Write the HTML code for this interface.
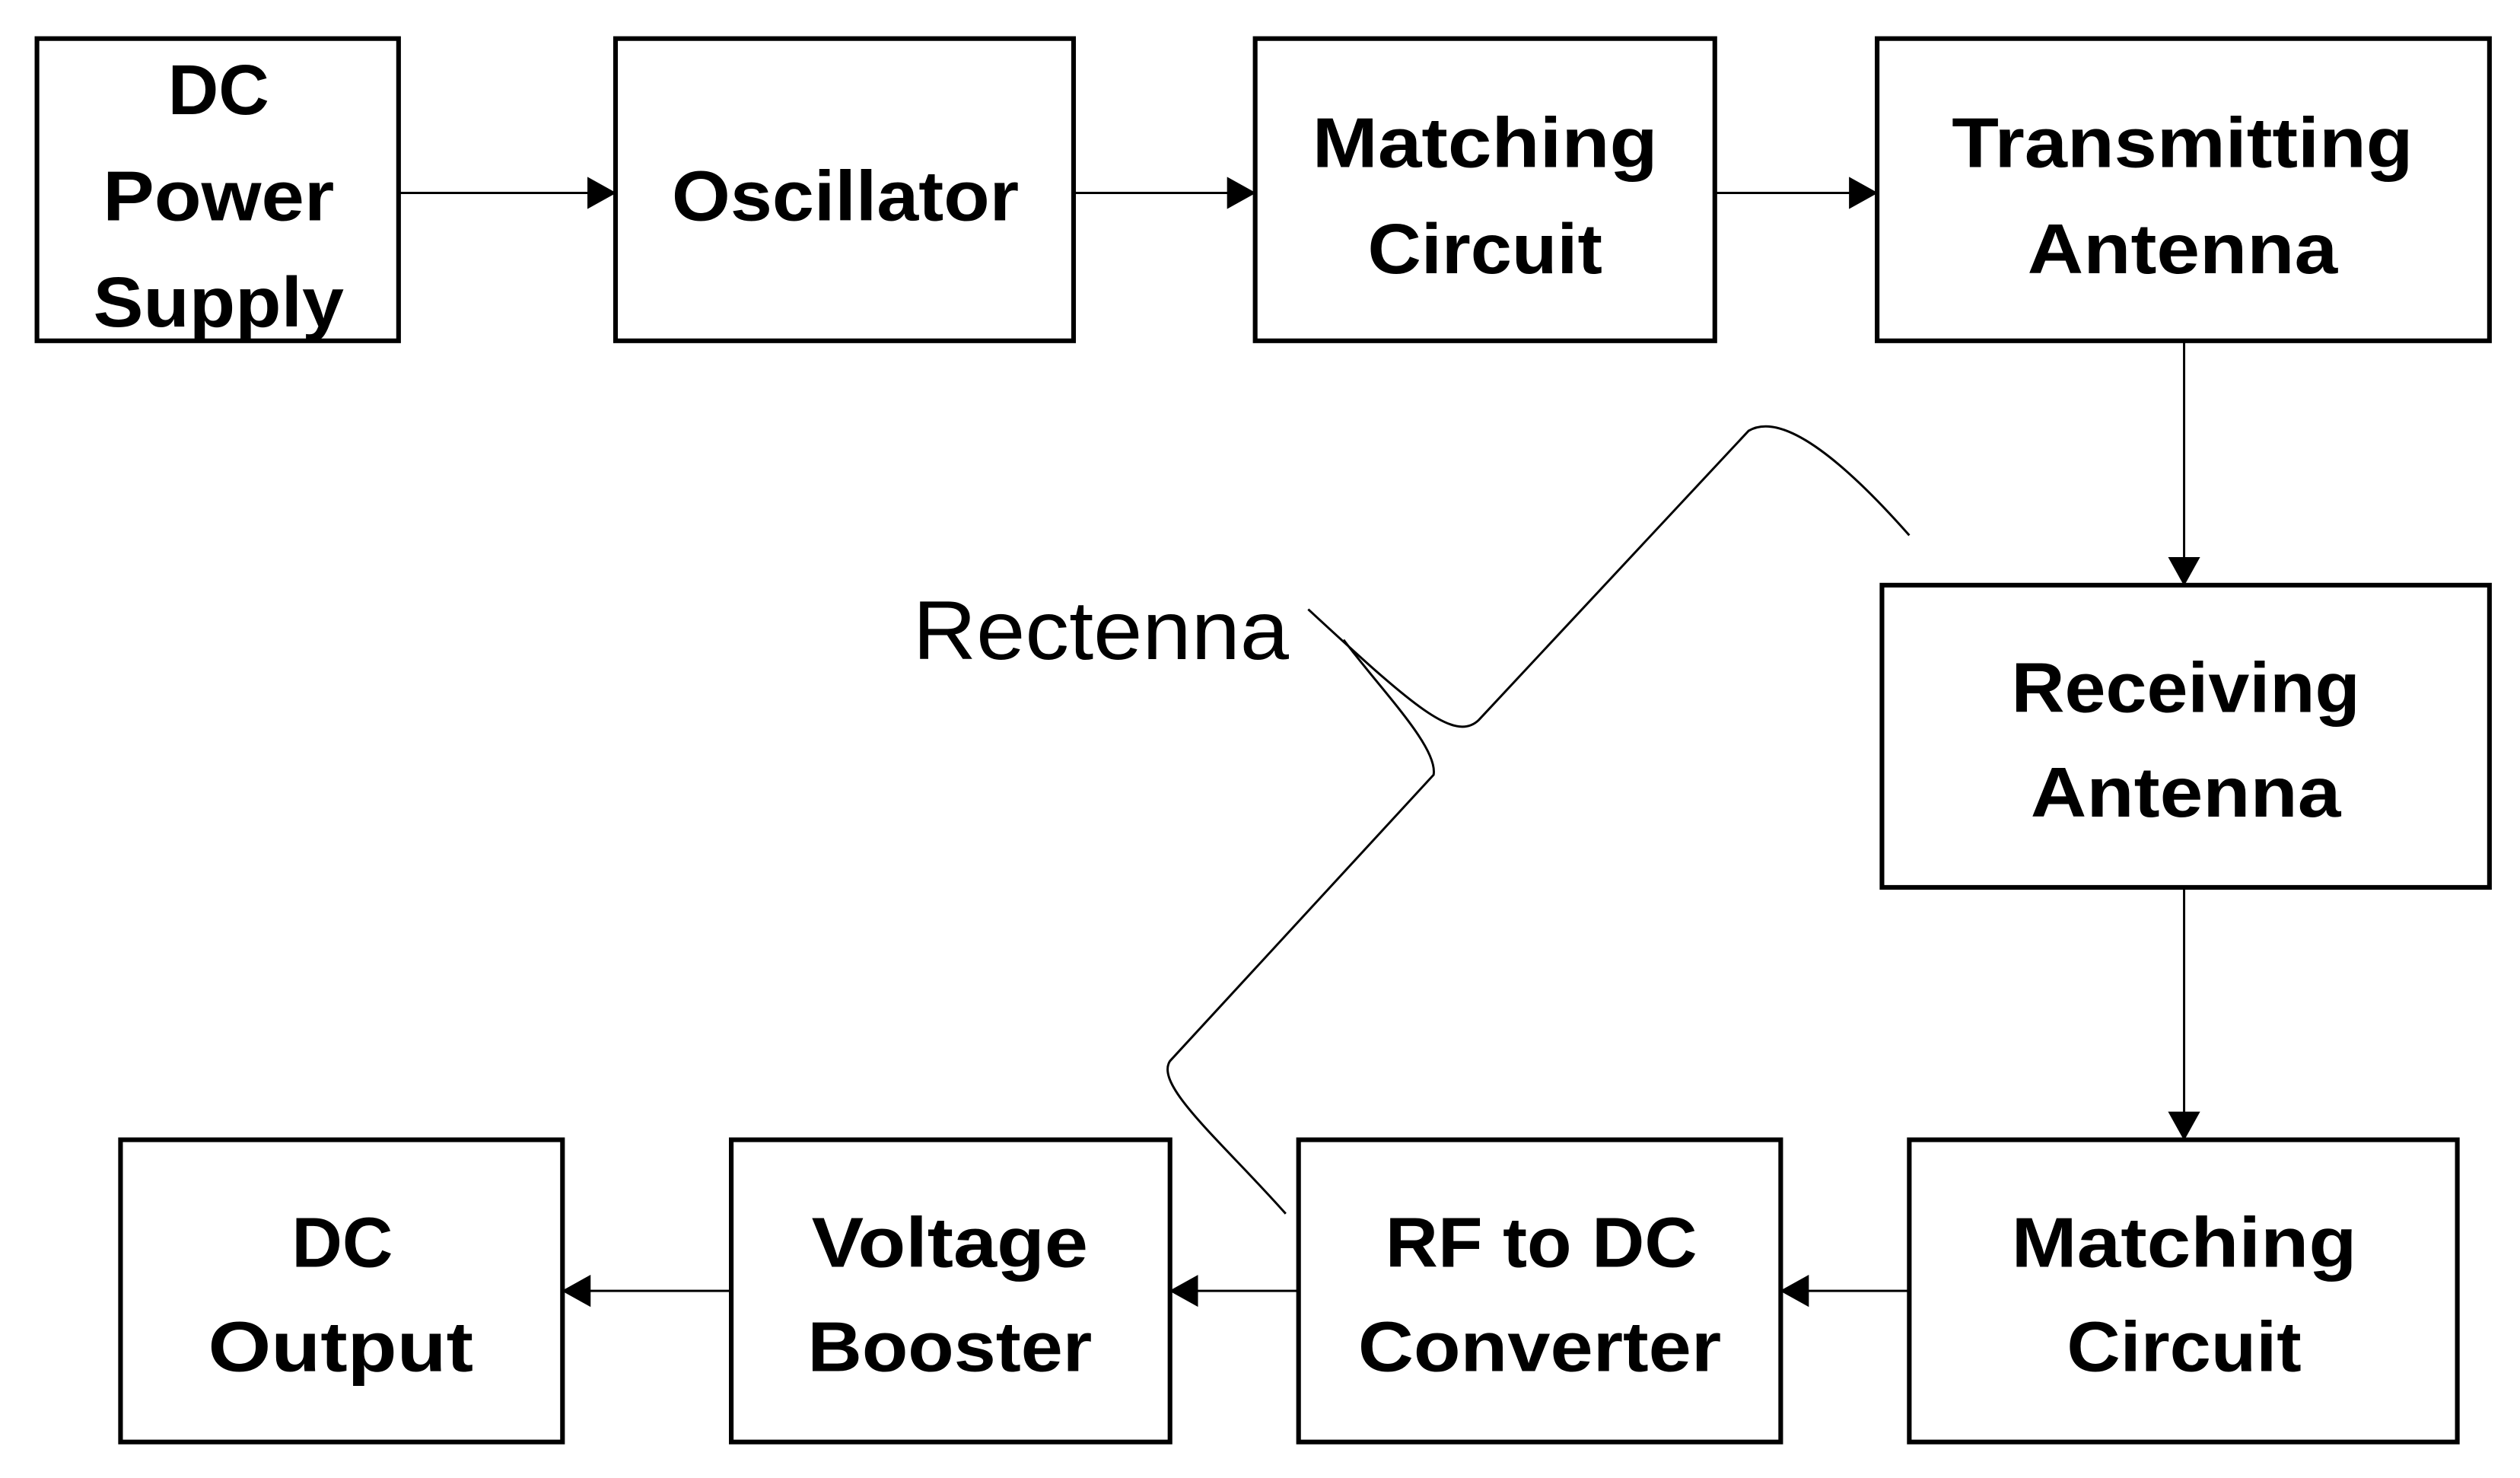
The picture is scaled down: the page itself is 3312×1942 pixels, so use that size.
<!DOCTYPE html>
<html><head><meta charset="utf-8"><style>html,body{margin:0;padding:0;background:#fff;}svg{display:block;}</style></head>
<body>
<svg width="3312" height="1942" viewBox="0 0 1568 919.4" preserveAspectRatio="none" xmlns="http://www.w3.org/2000/svg">
<defs><marker id="a" markerWidth="18" markerHeight="20" refX="17.5" refY="10" orient="auto" markerUnits="userSpaceOnUse"><path d="M0,0 L18,10 L0,20 Z" fill="#000"/></marker></defs>
<g fill="#fff" stroke="#000" stroke-width="2.9">
<rect x="23" y="24" width="225" height="188"/>
<rect x="383" y="24" width="285" height="188"/>
<rect x="781" y="24" width="286" height="188"/>
<rect x="1168" y="24" width="381" height="188"/>
<rect x="1171" y="364" width="378" height="188"/>
<rect x="1188" y="709" width="341" height="188"/>
<rect x="808" y="709" width="300" height="188"/>
<rect x="455" y="709" width="273" height="188"/>
<rect x="75" y="709" width="275" height="188"/>
</g>
<g stroke="#000" stroke-width="1.4" fill="none" marker-end="url(#a)">
<line x1="248" y1="120" x2="383" y2="120"/>
<line x1="668" y1="120" x2="781" y2="120"/>
<line x1="1067" y1="120" x2="1168" y2="120"/>
<line x1="1359" y1="212" x2="1359" y2="364"/>
<line x1="1359" y1="552" x2="1359" y2="709"/>
<line x1="1188" y1="803" x2="1108" y2="803"/>
<line x1="808" y1="803" x2="728" y2="803"/>
<line x1="455" y1="803" x2="350" y2="803"/>
</g>
<g stroke="#000" stroke-width="1.4" fill="none">
<path d="M1188,333 C1150,290 1110,255 1088,268 L920,448 C905,462 880,440 814,379"/>
<path d="M836,398 C860,430 895,465 892,482 L728,660 C718,675 760,710 800,755"/>
</g>
<g font-family="Liberation Sans, sans-serif" font-weight="bold" font-size="44" text-anchor="middle" fill="#000" lengthAdjust="spacingAndGlyphs">
<text x="136" y="71" textLength="63" lengthAdjust="spacingAndGlyphs">DC</text>
<text x="136" y="137" textLength="144" lengthAdjust="spacingAndGlyphs">Power</text>
<text x="136" y="203" textLength="156" lengthAdjust="spacingAndGlyphs">Supply</text>
<text x="526" y="137" textLength="216" lengthAdjust="spacingAndGlyphs">Oscillator</text>
<text x="924" y="104" textLength="215" lengthAdjust="spacingAndGlyphs">Matching</text>
<text x="924" y="170" textLength="146" lengthAdjust="spacingAndGlyphs">Circuit</text>
<text x="1358" y="104" textLength="287" lengthAdjust="spacingAndGlyphs">Transmitting</text>
<text x="1358" y="170" textLength="193" lengthAdjust="spacingAndGlyphs">Antenna</text>
<text x="1360" y="443" textLength="217" lengthAdjust="spacingAndGlyphs">Receiving</text>
<text x="1360" y="508" textLength="193" lengthAdjust="spacingAndGlyphs">Antenna</text>
<text x="1359" y="788" textLength="215" lengthAdjust="spacingAndGlyphs">Matching</text>
<text x="1359" y="853" textLength="146" lengthAdjust="spacingAndGlyphs">Circuit</text>
<text x="959" y="788" textLength="194" lengthAdjust="spacingAndGlyphs">RF to DC</text>
<text x="958" y="853" textLength="226" lengthAdjust="spacingAndGlyphs">Converter</text>
<text x="591" y="788" textLength="172" lengthAdjust="spacingAndGlyphs">Voltage</text>
<text x="591" y="853" textLength="177" lengthAdjust="spacingAndGlyphs">Booster</text>
<text x="213" y="788" textLength="63" lengthAdjust="spacingAndGlyphs">DC</text>
<text x="212" y="853" textLength="165" lengthAdjust="spacingAndGlyphs">Output</text>
</g>
<text x="568" y="410" font-family="Liberation Sans, sans-serif" font-size="52" textLength="234" lengthAdjust="spacingAndGlyphs" fill="#000">Rectenna</text>
</svg>
</body></html>
